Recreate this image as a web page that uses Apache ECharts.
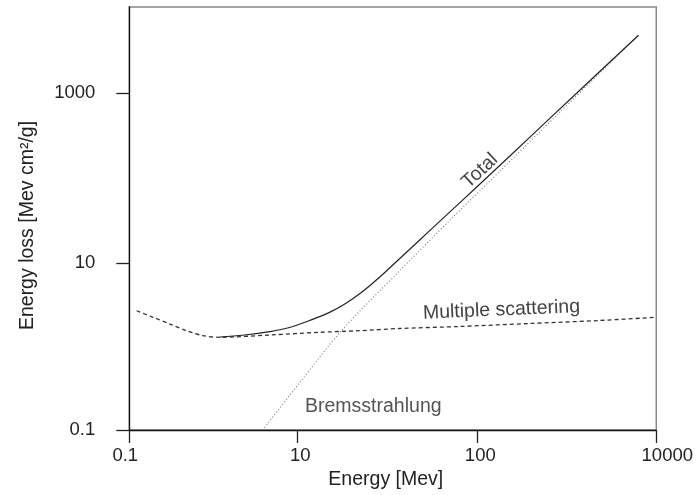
<!DOCTYPE html>
<html>
<head>
<meta charset="utf-8">
<script src="https://cdn.jsdelivr.net/npm/echarts@6/dist/echarts.min.js"></script>
<style>
  html, body { margin: 0; padding: 0; background: #ffffff; }
  #chart { width: 696px; height: 495px; }
</style>
</head>
<body>
<div id="chart"></div>
<script>
// ---- data (energy in MeV, energy loss in MeV cm^2/g) ----
const xTickLabels = ['0.1', '10', '100', '10000'];
const xTickLog = [-1, 0.912, 2.962, 5];
const yTickLabels = ['0.1', '10', '1000'];
const yTickLog = [-1, 0.971, 2.983];

const totalEnergy = [1.07, 2.059, 3.96, 6.675, 11.26, 19.0, 28.1, 41.6, 61.6, 91.2, 153.8, 259.4, 615, 1346, 3542, 13090, 62800];
const totalLoss   = [1.257, 1.327, 1.452, 1.627, 1.967, 2.458, 3.07, 4.05, 5.65, 8.15, 13.51, 22.4, 51.5, 109.7, 282, 1010, 4640];

const scatterEnergy = [0.1213, 0.1873, 0.2897, 0.4486, 0.692, 1.07, 3.96, 14.6, 41.6, 118.4, 568, 3542, 22080, 97200];
const scatterLoss   = [2.567, 2.146, 1.789, 1.492, 1.302, 1.247, 1.327, 1.428, 1.492, 1.583, 1.672, 1.814, 1.967, 2.146];

const bremsEnergy = [3.30, 8.67, 25.8, 118.4, 457, 1618, 7762, 62800];
const bremsLoss   = [0.1, 0.360, 1.48, 7.54, 30.9, 111.8, 556, 4677];

function toLogPairs(xs, ys) {
  return xs.map((x, i) => [Math.log10(x), Math.log10(ys[i])]);
}
function findTick(ticks, v) {
  return ticks.findIndex(t => Math.abs(t - v) < 1e-6);
}

const FONT = '"Liberation Sans", Arial, Helvetica, sans-serif';
const TICK_FONT = { fontFamily: FONT, fontSize: 18.5, color: '#222' };
// horizontal nudges of the x tick labels (pixels, via padding)
const xLabelPad = [[0, 8, 0, 0], [0, 0, 0, 6], [0, 0, 0, 6], [0, 0, 0, 22]];
const xRich = {};
xLabelPad.forEach((p, i) => { xRich['s' + i] = Object.assign({ padding: p }, TICK_FONT); });

const chart = echarts.init(document.getElementById('chart'), null, { renderer: 'canvas' });

const option = {
  animation: false,
  backgroundColor: '#ffffff',
  grid: {
    left: 129.3, right: 38.2, top: 7, bottom: 63.7,
    show: true, borderColor: '#888888', borderWidth: 1.5, backgroundColor: 'transparent'
  },
  xAxis: {
    type: 'value', min: -1, max: 5,
    name: 'Energy [Mev]', nameLocation: 'middle', nameGap: 40,
    nameTextStyle: { fontFamily: FONT, fontSize: 19.5, color: '#222', padding: [0, 14, 0, 0] },
    axisLine: { show: true, onZero: false, lineStyle: { color: '#111', width: 1.3 } },
    axisTick: { show: true, length: 13, customValues: xTickLog, lineStyle: { color: '#222', width: 1.3 } },
    axisLabel: Object.assign({
      customValues: xTickLog, margin: 16,
      formatter: function (v) {
        const i = findTick(xTickLog, v);
        return i >= 0 ? '{s' + i + '|' + xTickLabels[i] + '}' : '';
      },
      rich: xRich
    }, TICK_FONT),
    splitLine: { show: false }
  },
  yAxis: {
    type: 'value', min: -1, max: 4,
    name: 'Energy loss [Mev cm\u00B2/g]', nameLocation: 'middle', nameGap: 92,
    nameTextStyle: { fontFamily: FONT, fontSize: 19.5, color: '#222', padding: [0, 14, 0, 0] },
    axisLine: { show: true, onZero: false, lineStyle: { color: '#111', width: 1.3 } },
    axisTick: { show: true, length: 13, customValues: yTickLog, lineStyle: { color: '#222', width: 1.3 } },
    axisLabel: Object.assign({
      customValues: yTickLog, margin: 34,
      formatter: function (v) {
        const i = findTick(yTickLog, v);
        return i >= 0 ? yTickLabels[i] : '';
      }
    }, TICK_FONT),
    splitLine: { show: false }
  },
  series: [
    {
      name: 'Bremsstrahlung', type: 'line', showSymbol: false, smooth: 0.3,
      data: toLogPairs(bremsEnergy, bremsLoss),
      lineStyle: { color: '#777', width: 1.1, type: [1, 2.2] }, z: 2
    },
    {
      name: 'Multiple scattering', type: 'line', showSymbol: false, smooth: 0.3,
      data: toLogPairs(scatterEnergy, scatterLoss),
      lineStyle: { color: '#333', width: 1.3, type: [4, 3] }, z: 3
    },
    {
      name: 'Total', type: 'line', showSymbol: false, smooth: 0.4,
      data: toLogPairs(totalEnergy, totalLoss),
      lineStyle: { color: '#222', width: 1.2, type: 'solid' }, z: 4
    }
  ],
  graphic: [
    { type: 'text', x: 480, y: 171, rotation: 43 * Math.PI / 180,
      style: { text: 'Total', fontFamily: FONT, fontSize: 19.5, fill: '#444', align: 'center', verticalAlign: 'middle' } },
    { type: 'text', x: 501.5, y: 310, rotation: 2.4 * Math.PI / 180,
      style: { text: 'Multiple scattering', fontFamily: FONT, fontSize: 19.5, fill: '#444', align: 'center', verticalAlign: 'middle' } },
    { type: 'text', x: 373.3, y: 407, rotation: 0,
      style: { text: 'Bremsstrahlung', fontFamily: FONT, fontSize: 19.5, fill: '#555', align: 'center', verticalAlign: 'middle' } }
  ]
};
chart.setOption(option);
</script>
</body>
</html>
